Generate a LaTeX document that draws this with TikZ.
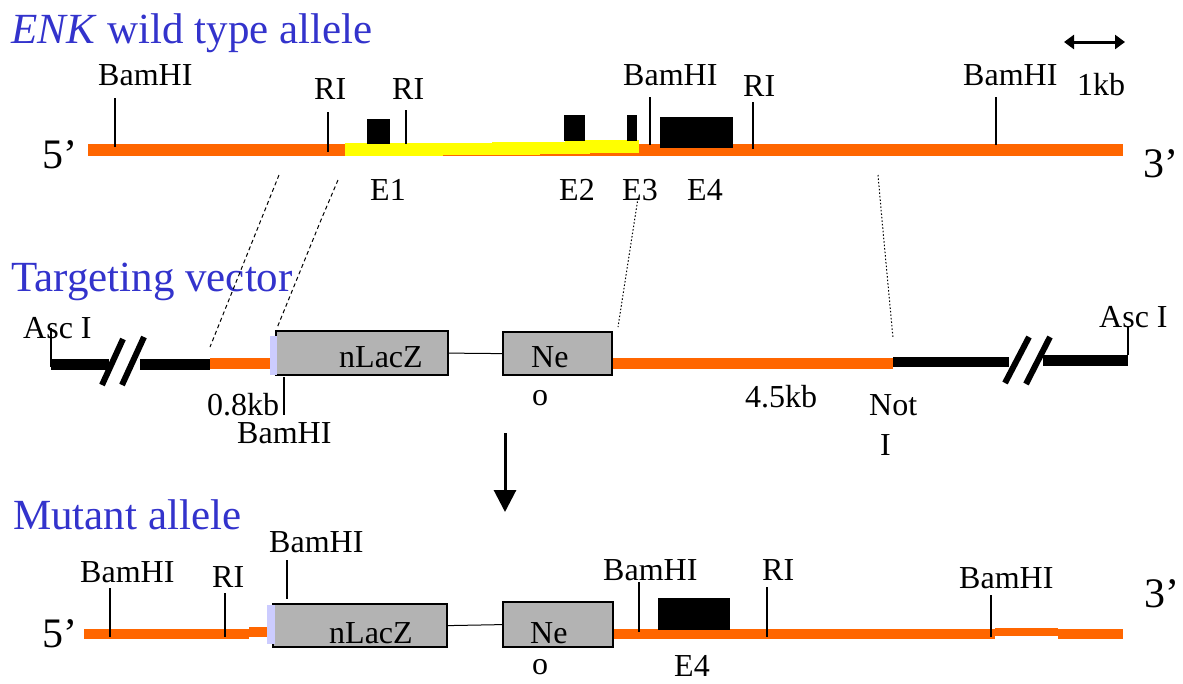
\documentclass[tikz,border=0pt]{standalone}
\usepackage{fontspec}
\setmainfont{Liberation Serif}
\usetikzlibrary{arrows.meta}
\definecolor{dnaorange}{RGB}{255,102,0}
\definecolor{exonyellow}{RGB}{255,255,0}
\definecolor{titleblue}{RGB}{51,51,204}
\definecolor{boxgray}{RGB}{179,179,179}
\definecolor{lav}{RGB}{204,204,255}
\begin{document}
\begin{tikzpicture}[x=1pt,y=-1pt,
 lbl/.style={inner sep=0pt, anchor=base west, font=\fontsize{32}{36}\selectfont},
 ttl/.style={inner sep=0pt, anchor=base west, font=\fontsize{43}{48}\selectfont, text=titleblue},
 prime/.style={inner sep=0pt, anchor=base west, font=\fontsize{42}{46}\selectfont},
 tick/.style={line width=1.2pt},
 gbox/.style={draw, line width=2.2pt, fill=boxgray, inner sep=0pt, anchor=north west},
 exon/.style={fill=black, draw=none, inner sep=0pt, anchor=north west},
 brk/.style={line width=6pt},
 conn/.style={line width=1pt},
 homdash/.style={line width=1pt, dash pattern=on 4pt off 3pt},
 homdot/.style={line width=1pt, dash pattern=on 1.5pt off 2pt},
]
\useasboundingbox (0,0) rectangle (1183,683);
\fill[white] (0,0) rectangle (1183,683);

% ---------------- Row 1: wild type allele
\node[ttl] (t1) at (11,43) {\textit{ENK} wild type allele};
\fill[dnaorange] (88,144) rectangle (1123,156);
\fill[exonyellow] (345,143) rectangle (443,156);
\fill[exonyellow] (418,142.5) rectangle (540,154.5);
\fill[exonyellow] (492,141.5) rectangle (590,153.5);
\fill[exonyellow] (565,140) rectangle (639,152.5);
\node[exon, minimum width=23pt, minimum height=25pt] (e1box) at (367,119) {};
\node[exon, minimum width=21pt, minimum height=26pt] (e2box) at (564,115) {};
\node[exon, minimum width=10pt, minimum height=26pt] (e3box) at (627,115) {};
\node[exon, minimum width=73pt, minimum height=31pt] (e4box) at (660,117) {};
\draw[tick] (115,98) -- (115,147);
\draw[tick] (328,112) -- (328,152);
\draw[tick] (406,110) -- (406,144);
\draw[tick] (650,97) -- (650,145);
\draw[tick] (753,102) -- (753,149);
\draw[tick] (996,97) -- (996,145);
\node[lbl] (b1) at (98,85) {BamHI};
\node[lbl] (r1) at (314,99) {RI};
\node[lbl] (r2) at (392,99) {RI};
\node[lbl] (b2) at (623,85) {BamHI};
\node[lbl] (r3) at (743,96) {RI};
\node[lbl] (b3) at (963,85) {BamHI};
\node[lbl] (le1) at (370,200) {E1};
\node[lbl] (le2) at (559,200) {E2};
\node[lbl] (le3) at (622,200) {E3};
\node[lbl] (le4) at (687,200) {E4};
\node[lbl] (kb) at (1077,95) {1kb};
\node[prime] (p5a) at (42,168) {5’};
\node[prime] (p3a) at (1143,177) {3’};
\coordinate (sa) at (1064,42);
\coordinate (sb) at (1125,42);
\draw[line width=3pt, {Triangle[length=10pt,width=14pt]}-{Triangle[length=10pt,width=14pt]}] (sa) -- (sb);

% ---------------- Row 2: targeting vector
\node[ttl] (t2) at (11,291) {Targeting vector};
\fill[black] (51,359) rectangle (109,370);
\fill[black] (140,359) rectangle (210,370);
\fill[dnaorange] (210,358) rectangle (271,369);
\fill[black] (893,357) rectangle (1009,367);
\fill[black] (1043,355) rectangle (1128,366);
\fill[dnaorange] (611,358) rectangle (893,369);
\draw[brk] (102,385) -- (123,339);
\draw[brk] (122,385) -- (144,337);
\draw[brk] (1005,383) -- (1029,337);
\draw[brk] (1026,384) -- (1050,337);
\node[gbox, minimum width=172pt, minimum height=44pt] (lacz1) at (275,330) {};
\fill[lav] (270,336) rectangle (277,375);
\node[gbox, minimum width=109pt, minimum height=43pt] (neo1) at (502,331) {};
\draw[conn] (lacz1.east) -- (neo1.west);
\draw[tick] (51,328) -- (51,367);
\draw[tick] (1128,327) -- (1128,355);
\draw[tick] (284,377) -- (284,415);
\node[lbl] (asc1) at (23,338) {Asc I};
\node[lbl] (asc2) at (1099,327) {Asc I};
\node[lbl] (k08) at (207,415) {0.8kb};
\node[lbl] (b4) at (237,443) {BamHI};
\node[lbl] (nl1) at (339,367) {nLacZ};
\node[lbl] (ne1) at (531,367) {Ne};
\node[lbl] (o1) at (532,405) {o};
\node[lbl] (k45) at (745,407) {4.5kb};
\node[lbl] (not) at (869,415) {Not};
\node[lbl] (noti) at (880,455) {I};

% homology lines
\coordinate (h1a) at (279,175); \coordinate (h1b) at (210,347);
\coordinate (h2a) at (338,180); \coordinate (h2m) at (321,220); \coordinate (h2b) at (277,328);
\coordinate (h3a) at (638,198); \coordinate (h3b) at (618,327);
\coordinate (h4a) at (878,175); \coordinate (h4m) at (882,220); \coordinate (h4b) at (893,338);
\draw[homdash] (h1a) -- (h1b);
\draw[homdash] (h2a) -- (h2m) -- (h2b);
\draw[homdot] (h3a) -- (h3b);
\draw[homdot] (h4a) -- (h4m) -- (h4b);

% arrow
\coordinate (aa) at (505,433);
\coordinate (ab) at (505,512);
\draw[line width=3pt, -{Triangle[length=22pt,width=22pt]}] (aa) -- (ab);

% ---------------- Row 3: mutant allele
\node[ttl] (t3) at (13,529) {Mutant allele};
\fill[dnaorange] (84,629) rectangle (249,639);
\fill[dnaorange] (249,627) rectangle (268,637);
\fill[dnaorange] (612,629) rectangle (995,639);
\fill[dnaorange] (995,628) rectangle (1058,636);
\fill[dnaorange] (1058,629) rectangle (1123,639);
\node[gbox, minimum width=174pt, minimum height=43pt] (lacz2) at (272,603) {};
\fill[lav] (267,605) rectangle (275,644);
\node[gbox, minimum width=110pt, minimum height=45pt] (neo2) at (502,601) {};
\draw[conn] (lacz2.east) -- (neo2.west);
\node[exon, minimum width=72pt, minimum height=32pt] (e4m) at (658,598) {};
\draw[tick] (110,588) -- (110,637);
\draw[tick] (225,593) -- (225,637);
\draw[tick] (287,560) -- (287,599);
\draw[tick] (639,582) -- (639,632);
\draw[tick] (767,587) -- (767,637);
\draw[tick] (991,595) -- (991,637);
\node[lbl] (b5) at (80,582) {BamHI};
\node[lbl] (r4) at (212,587) {RI};
\node[lbl] (b6) at (269,552) {BamHI};
\node[lbl] (nl2) at (329,643) {nLacZ};
\node[lbl] (ne2) at (530,643) {Ne};
\node[lbl] (o2) at (532,674) {o};
\node[lbl] (b7) at (603,580) {BamHI};
\node[lbl] (le4m) at (674,676) {E4};
\node[lbl] (r5) at (762,580) {RI};
\node[lbl] (b8) at (959,588) {BamHI};
\node[prime] (p5b) at (42,647) {5’};
\node[prime] (p3b) at (1144,607) {3’};
\end{tikzpicture}
\end{document}
